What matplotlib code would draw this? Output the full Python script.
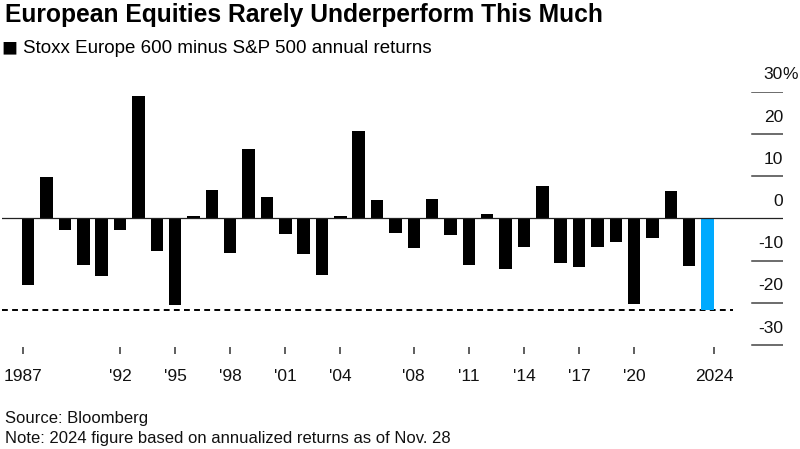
import matplotlib.pyplot as plt
from matplotlib.transforms import blended_transform_factory

# Stoxx Europe 600 minus S&P 500 annual returns (%)
years = list(range(1987, 2025))
returns = [-15.9, 9.8, -2.7, -11.1, -13.6, -2.8, 28.9, -7.8, -20.6, 0.6,
           6.7, -8.1, 16.5, 5.1, -3.8, -8.4, -13.4, 0.5, 20.6, 4.3,
           -3.5, -7.0, 4.5, -4.0, -11.1, 1.1, -12.0, -6.8, 7.6, -10.5,
           -11.5, -6.8, -5.6, -20.2, -4.6, 6.5, -11.3, -21.6]
tick_years = [1987, 1992, 1995, 1998, 2001, 2004, 2008, 2011, 2014, 2017, 2020, 2024]
tick_labels = ["1987", "'92", "'95", "'98", "'01", "'04", "'08", "'11", "'14", "'17", "'20", "2024"]
y_ticks = [30, 20, 10, 0, -10, -20, -30]

plt.rcParams['font.family'] = ['Liberation Sans', 'DejaVu Sans']

fig = plt.figure(figsize=(8, 4.49), dpi=100)
ax = fig.add_axes([0.0025, 1 - 347.1 / 449, 781 / 800, 255.4 / 449])

colors = ['#000000'] * (len(years) - 1) + ['#00aaff']
ax.bar(years, returns, width=0.68, color=colors, zorder=3)

ax.set_xlim(1985.57, 2028.11)
ax.set_ylim(-30.5, 30)

# zero line across the whole plot, short grid marks at the right
ax.axhline(0, color='#222222', lw=0.9, zorder=4)
for v in y_ticks:
    if v != 0:
        ax.axhline(v, xmin=0.9603, xmax=1.0, color='#444444', lw=1.1)

# dashed line at the 2024 level
ax.hlines(returns[-1], 1985.57, 2025.4, colors='black', lw=1.4,
          linestyles=(0, (3, 2.2)), zorder=2)

# right-hand labels sit above their marks
tr = blended_transform_factory(ax.transAxes, ax.transData)
for v in y_ticks:
    ax.text(1.0, v + 4.0, str(v), transform=tr, ha='right', va='center',
            fontsize=12.5, color='#111111', clip_on=False)
    if v == 30:
        ax.text(0.999, v + 4.0, "%", transform=tr, ha='left', va='center',
                fontsize=12.5, color='#111111', clip_on=False)

ax.set_xticks([1986.7] + tick_years[1:-1] + [2024.35])
ax.set_xticklabels(tick_labels, fontsize=12.5, color='#111111')
ax.set_yticks([])
ax.tick_params(axis='x', length=5, width=1.1, color='#333333', pad=11)
for s in ax.spines.values():
    s.set_visible(False)

fig.text(0.006, 0.967, "European Equities Rarely Underperform This Much",
         fontsize=17.7, fontweight='bold', va='center')
fig.text(0.0015, 0.893, "\u25a0", fontsize=19, va='center')
fig.text(0.029, 0.893, "Stoxx Europe 600 minus S&P 500 annual returns",
         fontsize=13.5, va='center')
fig.text(0.006, 0.069, "Source: Bloomberg", fontsize=12, va='center', color='#111111')
fig.text(0.006, 0.024, "Note: 2024 figure based on annualized returns as of Nov. 28",
         fontsize=12, va='center', color='#111111')

fig.savefig("out.png", dpi=100)
